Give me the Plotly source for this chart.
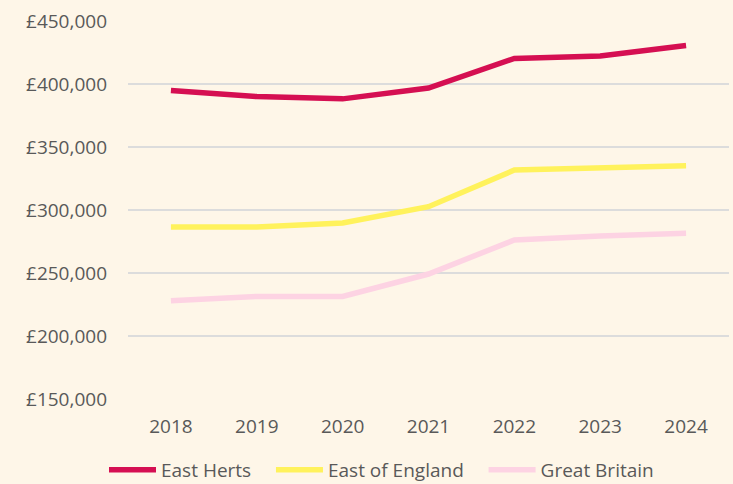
import plotly.graph_objects as go

years = ["2018", "2019", "2020", "2021", "2022", "2023", "2024"]
east_herts = [394900, 390000, 388200, 396800, 420300, 422200, 430500]
east_of_england = [286500, 286500, 289700, 302600, 331700, 333600, 335200]
great_britain = [228000, 231400, 231400, 249200, 276200, 279400, 281500]

series = [
    ("East Herts", east_herts, "#D50F52"),
    ("East of England", east_of_england, "#FFF25C"),
    ("Great Britain", great_britain, "#FDD3E3"),
]

BG = "#FEF6E8"
TEXT = "#595959"
GRID = "#DCDCDC"
FONT = "Open Sans"
PAD = "\u00a0" * 3  # a little extra room between legend entries

fig = go.Figure()
for name, values, color in series:
    fig.add_scatter(
        x=years,
        y=values,
        mode="lines",
        name=name + PAD,
        line={"color": color, "width": 5.5},
        hovertemplate=name + ": £%{y:,}<extra></extra>",
    )

fig.update_layout(
    width=733,
    height=484,
    margin={"l": 128, "r": 4, "t": 21, "b": 85},
    paper_bgcolor=BG,
    plot_bgcolor=BG,
    font={"family": FONT, "size": 19, "color": TEXT},
    showlegend=True,
    legend={
        "orientation": "h",
        "xref": "container",
        "yref": "container",
        "x": 104 / 733,
        "y": 14 / 484,
        "xanchor": "left",
        "yanchor": "middle",
        "itemwidth": 47,
        "bgcolor": "rgba(0,0,0,0)",
        "font": {"size": 19, "color": TEXT},
    },
)
fig.update_xaxes(
    type="category",
    range=[-0.5, len(years) - 0.5],
    showgrid=False,
    showline=False,
    zeroline=False,
    ticks="",
    ticklabelstandoff=14,
)
fig.update_yaxes(
    range=[150000, 450000],
    dtick=50000,
    tickprefix="£",
    tickformat=",",
    showgrid=True,
    gridcolor=GRID,
    gridwidth=2,
    zeroline=False,
    showline=False,
    ticks="",
    ticklabelstandoff=20,
)

fig.write_html(
    "out.html",
    config={"displayModeBar": False},
    post_script="document.body.style.margin='0';document.body.style.overflow='hidden';",
)
